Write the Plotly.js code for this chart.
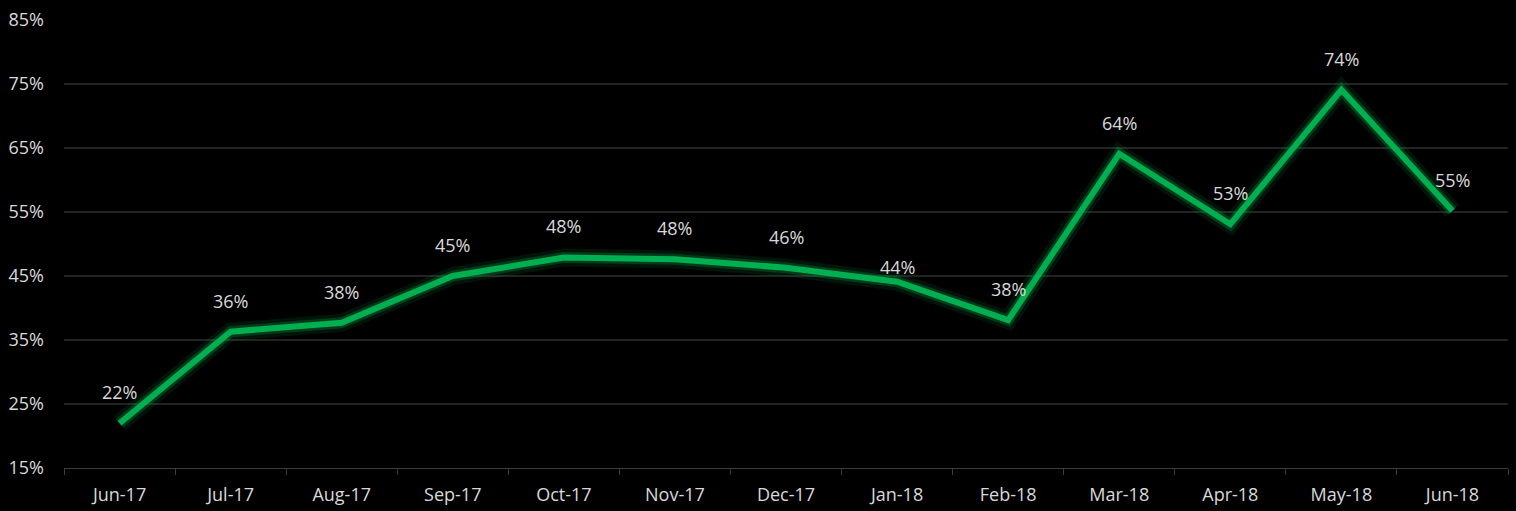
<!DOCTYPE html>
<html>
<head>
<meta charset="utf-8">
<script src="https://cdn.plot.ly/plotly-3.0.1.min.js"></script>
<style>html,body{margin:0;padding:0;background:#000;}#chart{width:1516px;height:511px;}</style>
</head>
<body>
<div id="chart"></div>
<script>
const months = ["Jun-17","Jul-17","Aug-17","Sep-17","Oct-17","Nov-17","Dec-17","Jan-18","Feb-18","Mar-18","Apr-18","May-18","Jun-18"];
const values = [22.0, 36.3, 37.7, 45.0, 47.9, 47.6, 46.3, 44.1, 38.1, 64.1, 53.1, 74.1, 55.2];
const yTicks = [15, 25, 35, 45, 55, 65, 75, 85];
const yTickLabels = ["15%","25%","35%","45%","55%","65%","75%","85%"];

const green = "#00B050";
const glowOuter = {x: months, y: values, mode: "lines", line: {color: "rgba(0,176,80,0.12)", width: 18}, hoverinfo: "skip", showlegend: false};
const glowInner = {x: months, y: values, mode: "lines", line: {color: "rgba(0,176,80,0.25)", width: 11}, hoverinfo: "skip", showlegend: false};
const main = {x: months, y: values, mode: "lines", line: {color: green, width: 6}, showlegend: false};

const fontFam = "Open Sans, Liberation Sans, sans-serif";
const annotations = months.map((m, i) => ({
  x: m, y: values[i], text: Math.round(values[i]) + "%",
  showarrow: false, yanchor: "middle", yshift: (m === "Jan-18") ? 15 : 31,
  font: {family: fontFam, size: 18, color: "#D9D9D9"}
}));

const layout = {
  width: 1516, height: 511,
  paper_bgcolor: "#000", plot_bgcolor: "#000",
  margin: {l: 64, r: 8, t: 20, b: 43},
  font: {family: fontFam, size: 18, color: "#D9D9D9"},
  xaxis: {
    type: "category", tickson: "boundaries", ticks: "outside", ticklen: 6, tickcolor: "#3a3a3a",
    showline: true, linecolor: "#3a3a3a", linewidth: 1, showgrid: false, zeroline: false,
    tickfont: {size: 18, color: "#D9D9D9"}, range: [-0.5, months.length - 0.5], fixedrange: true,
    ticklabelstandoff: 10
  },
  yaxis: {
    range: [15, 85], tickvals: yTicks, ticktext: yTickLabels, showgrid: true, gridcolor: "#222222", gridwidth: 1.5,
    zeroline: false, showline: false, ticks: "", tickfont: {size: 18, color: "#D9D9D9"}, ticklabelstandoff: 19
  },
  annotations: annotations
};

Plotly.newPlot("chart", [glowOuter, glowInner, main], layout, {displayModeBar: false, staticPlot: true});
</script>
</body>
</html>
